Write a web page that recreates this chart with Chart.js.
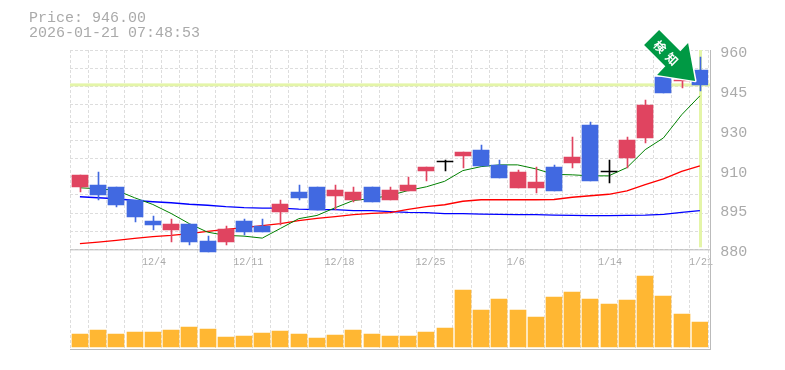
<!DOCTYPE html>
<html>
<head>
<meta charset="utf-8">
<script src="https://cdn.jsdelivr.net/npm/chart.js@4"></script>
<style>
  body { margin: 0; background: #fff; }
  canvas { display: block; }
</style>
</head>
<body>
<canvas id="chart" width="785" height="370"></canvas>
<script>
const titleLines = ["Price: 946.00", "2026-01-21 07:48:53"];
const lastPrice = 946;

// one label per session, empty where the original prints no date
const dates = ["", "", "", "", "12/4", "", "", "", "", "12/11", "", "", "", "", "12/18", "", "", "", "", "12/25", "", "", "", "", "1/6", "", "", "", "", "1/14", "", "", "", "", "1/21"];

const opens = [904.9, 906, 905.2, 900, 891.2, 887.6, 890, 883.2, 882.8, 891.2, 889.2, 894.8, 903.2, 905.2, 901.6, 899.6, 905.2, 899.6, 903.6, 911.6, 915.2, 917.6, 920, 914, 904.8, 904.8, 913.2, 914.8, 930, 911, 916.8, 924.8, 949.2, 947.6, 952];
const closes = [910, 901.7, 897.6, 892.8, 889.6, 890, 882.8, 878.8, 888, 886.8, 886.8, 898, 900.8, 895.6, 904, 903.2, 898.8, 904, 906, 913.2, 915.6, 919.2, 913.6, 908.8, 911.2, 907.2, 903.6, 917.2, 907.6, 911.4, 924, 938, 942.8, 948, 946];
const highs = [910, 911.2, 905.2, 900, 893.2, 892, 890, 885.2, 889.2, 892, 892, 900, 906, 905.2, 906, 905.2, 905.2, 905.2, 909.2, 913.2, 916, 919.2, 922, 916, 912, 913.2, 914, 925.2, 931.2, 916, 925.2, 940, 949.2, 948, 957.2];
const lows = [902.9, 899.7, 896.8, 890.8, 887.6, 882.8, 881.6, 878.8, 881.6, 885.6, 886.8, 889.6, 899.6, 895.6, 895.6, 898.8, 898.8, 899.6, 903.6, 907.6, 911.6, 912.8, 913.6, 908.8, 904.8, 902.8, 903.6, 912.8, 907.6, 906.8, 912.8, 922.8, 942.8, 944.8, 943.6];

const ma5 = [904.7, 904.3, 903.7, 900.7, 898, 894.4, 890.3, 886.9, 885.6, 885.3, 884.5, 888.4, 892.3, 893.6, 896.7, 899.6, 900.4, 901.6, 903.6, 905.1, 907.3, 911.6, 913.2, 913.9, 913.9, 912.3, 910.1, 909.9, 909.5, 909.5, 912.8, 920, 924.7, 934, 941.6];
const ma25 = [882.3, 882.9, 883.6, 884.4, 885.1, 885.6, 886.3, 887.2, 888, 888.7, 889.5, 890.3, 891.5, 892.4, 893.1, 893.9, 894.4, 894.7, 896, 897.1, 897.9, 899.3, 899.9, 899.9, 899.9, 899.9, 900, 900.9, 901.5, 902.1, 903.5, 906, 908.3, 911.3, 913.5];
const ma75 = [901.1, 900.7, 900.3, 899.6, 899.1, 898.7, 898.1, 897.7, 897.1, 896.7, 896.5, 896.5, 896.1, 895.9, 895.9, 895.5, 895.5, 895.1, 894.8, 894.7, 894.3, 894.3, 894.1, 894, 893.9, 893.9, 893.7, 893.6, 893.5, 893.5, 893.6, 893.7, 894, 894.8, 895.5];

const volumes = [13, 17, 13, 15, 15, 17, 20, 18, 10, 11, 14, 16, 13, 9, 12, 17, 13, 11, 11, 15, 19, 57, 37, 48, 37, 30, 50, 55, 48, 43, 47, 71, 51, 33, 25];

const priceTicks = [960, 944, 928, 912, 896, 880];
const priceTickLabels = ["960", "945", "930", "910", "895", "880"];
const gridRows = 11;

const GREY = "#bbbbbb";
const TEXT = "#aaaaaa";
const UP = "#e04460";
const DOWN = "#4169e1";
const DOJI = "#000000";
const HILITE = "#e4f5a8";

// candles sit a little right of the band centre in the original
const CENTER_SHIFT = 0.8;

function candleColor(ctx) {
    const i = ctx.dataIndex;
    if (i === 20 || i === 29) return DOJI;
    return closes[i] >= opens[i] ? UP : DOWN;
}

// frame, last price cross hair, title and the arrow stamp are not series marks
const decorations = {
    id: "decorations",
    afterDatasetsUpdate(chart) {
        // snap bars to whole pixels so the candles stay crisp
        chart.data.datasets.forEach((d, i) => {
            chart.getDatasetMeta(i).data.forEach((el) => {
                if (d.type === "line") {
                    el.x += CENTER_SHIFT;
                } else {
                    el.x = Math.round(el.x + CENTER_SHIFT) + (d.label === "Wick" ? 0.5 : 0);
                    el.y = Math.round(el.y);
                    el.base = Math.round(el.base);
                }
            });
        });
    },
    beforeDatasetsDraw(chart) {
        const { ctx, chartArea: a, scales } = chart;
        const yLast = scales.y.getPixelForValue(lastPrice);
        const xLast = Math.round(scales.x.getPixelForValue(dates.length - 1) + CENTER_SHIFT);
        const yBase = scales.y.getPixelForValue(880);
        const right = Math.round(a.right + 2);
        ctx.save();
        ctx.fillStyle = HILITE;
        ctx.fillRect(a.left, yLast - 1.5, right - a.left, 3);
        ctx.fillRect(xLast - 1, a.top, 3, yBase - 2 - a.top);
        ctx.strokeStyle = GREY;
        ctx.lineWidth = 1;
        ctx.beginPath();
        ctx.moveTo(a.left, yBase + 0.5);
        ctx.lineTo(right, yBase + 0.5);
        ctx.moveTo(a.left, a.bottom + 0.5);
        ctx.lineTo(right, a.bottom + 0.5);
        ctx.moveTo(right + 0.5, a.top);
        ctx.lineTo(right + 0.5, a.bottom + 1);
        ctx.stroke();
        ctx.restore();
    },
    afterDraw(chart) {
        const { ctx, scales } = chart;
        ctx.save();
        ctx.fillStyle = TEXT;
        ctx.font = "15px 'Liberation Mono'";
        ctx.textBaseline = "middle";
        ctx.fillText(titleLines[0], 29, 18);
        ctx.fillText(titleLines[1], 29, 33);

        // arrow tip sits just left of the last candle, at the last price
        const tipX = scales.x.getPixelForValue(dates.length - 1) - 4;
        const tipY = scales.y.getPixelForValue(lastPrice) - 4;
        ctx.translate(tipX, tipY);
        ctx.beginPath();
        ctx.moveTo(-36, -51);
        ctx.lineTo(-14.75, -29.75);
        ctx.lineTo(-7, -38);
        ctx.lineTo(0, 0);
        ctx.lineTo(-38, -6);
        ctx.lineTo(-29.75, -14.75);
        ctx.lineTo(-51, -36);
        ctx.closePath();
        ctx.fillStyle = "#009944";
        ctx.strokeStyle = "#ffffff";
        ctx.lineWidth = 3;
        ctx.lineJoin = "round";
        ctx.stroke();
        ctx.fill();
        ctx.translate(-29, -28);
        ctx.rotate(Math.PI / 4);
        ctx.fillStyle = "#ffffff";
        ctx.font = "bold 12px 'Noto Sans CJK JP'";
        ctx.textAlign = "center";
        ctx.textBaseline = "middle";
        ctx.fillText("検", -8.5, 0);
        ctx.fillText("知", 8.5, 0);
        ctx.restore();
    }
};

new Chart(document.getElementById("chart"), {
    type: "bar",
    plugins: [decorations],
    data: {
        labels: dates,
        datasets: [
            { label: "Candle", data: opens.map((o, i) => [o, closes[i]]), backgroundColor: candleColor, barThickness: 16, grouped: false, order: 1 },
            { label: "Wick", data: lows.map((l, i) => [l, highs[i]]), backgroundColor: candleColor, barThickness: 1, grouped: false, order: 2 },
            { type: "line", label: "MA5", data: ma5, borderColor: "#008000", borderWidth: 1, pointRadius: 0, tension: 0, order: 3 },
            { type: "line", label: "MA25", data: ma25, borderColor: "#ff0000", borderWidth: 1.3, pointRadius: 0, tension: 0, order: 4 },
            { type: "line", label: "MA75", data: ma75, borderColor: "#0000ff", borderWidth: 1.3, pointRadius: 0, tension: 0, order: 5 },
            { label: "Volume", data: volumes, yAxisID: "vol", backgroundColor: "#ffb733", barThickness: 16, grouped: false, order: 6 }
        ]
    },
    options: {
        responsive: false,
        animation: false,
        layout: { padding: { left: 70, top: 50, bottom: 20, right: 0 } },
        plugins: { legend: { display: false }, tooltip: { enabled: false } },
        scales: {
            x: {
                position: { y: 880 },
                grid: { color: "#dddddd", drawTicks: false, tickLength: 0 },
                border: { display: false, dash: [3, 2] },
                ticks: {
                    autoSkip: false, maxRotation: 0, padding: 7, align: "start", labelOffset: -10,
                    color: TEXT, font: { family: "'Liberation Mono'", size: 10 }
                }
            },
            // 2.5 px per yen: 960 at the top, the volume pane below 880
            y: {
                position: "left", min: 840, max: 960,
                afterFit(scale) { scale.width = 0; },
                afterBuildTicks(scale) {
                    const rows = [];
                    for (let k = 0; k <= gridRows; k++) rows.push({ value: 960 - k * 80 / gridRows });
                    scale.ticks = rows;
                },
                grid: { color: "#dddddd", drawTicks: false, tickLength: 0 },
                border: { display: false, dash: [3, 2] },
                ticks: { display: false }
            },
            priceLabels: {
                position: "right", min: 840, max: 960,
                afterFit(scale) { scale.width = 76.8; },
                afterBuildTicks(scale) { scale.ticks = priceTicks.map(v => ({ value: v })); },
                grid: { display: false, drawTicks: false },
                border: { display: false },
                ticks: {
                    callback: (v) => priceTickLabels[priceTicks.indexOf(v)],
                    padding: 12, labelOffset: 3, color: TEXT,
                    font: { family: "'Liberation Mono'", size: 15 }
                }
            },
            vol: { display: false, min: -2, max: 298 }
        }
    }
});
</script>
</body>
</html>
